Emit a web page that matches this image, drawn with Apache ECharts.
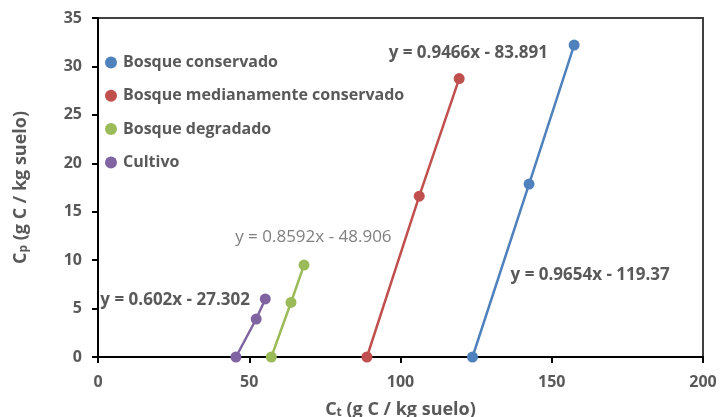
<!DOCTYPE html>
<html><head><meta charset="utf-8">
<script src="https://cdn.jsdelivr.net/npm/echarts@6/dist/echarts.min.js"></script>
<style>html,body{margin:0;padding:0;background:#fff}#c{width:720px;height:417px}</style>
</head><body><div id="c"></div>
<script>
const seriesNames = ['Bosque conservado','Bosque medianamente conservado','Bosque degradado','Cultivo'];
const colors = ['#4F81BD','#C0504D','#9BBB59','#8064A2'];
const ctConservado = [123.8, 142.5, 157.4];
const cpConservado = [0, 17.85, 32.2];
const ctMediano = [88.9, 106.2, 119.4];
const cpMediano = [0, 16.6, 28.75];
const ctDegradado = [57.3, 63.8, 68.1];
const cpDegradado = [0, 5.63, 9.49];
const ctCultivo = [45.6, 52.3, 55.3];
const cpCultivo = [0, 3.92, 5.99];
const equations = ['y = 0.9654x - 119.37','y = 0.9466x - 83.891','y = 0.8592x - 48.906','y = 0.602x - 27.302'];
const eqAnchorX = [162.7, 122.4, 71.2, 25.5];
const eqAnchorY = [8.4, 31.4, 12.4, 5.9];
const eqBold = [true, true, false, true];
const xTicks = [0, 50, 100, 150, 200];
const yTicks = [0, 5, 10, 15, 20, 25, 30, 35];

const FONT = 'Open Sans';
const TXT = '#595959';
const xs = [ctConservado, ctMediano, ctDegradado, ctCultivo];
const ys = [cpConservado, cpMediano, cpDegradado, cpCultivo];

const series = seriesNames.map((n, i) => ({
  name: n, type: 'line', data: xs[i].map((x, j) => [x, ys[i][j]]),
  symbol: 'circle', symbolSize: 11,
  lineStyle: {color: colors[i], width: 2.5},
  itemStyle: {color: colors[i]},
  z: 3,
  markPoint: {
    symbol: 'circle', symbolSize: 0, silent: true,
    data: [{coord: [eqAnchorX[i], eqAnchorY[i]]}],
    label: {show: true, position: 'inside', formatter: equations[i],
      fontFamily: FONT, fontSize: 17, fontWeight: eqBold[i] ? 'bold' : 'normal',
      color: eqBold[i] ? '#595959' : '#7f7f7f'}
  }
}));

const nameRich = {
  a: {fontFamily: FONT, fontSize: 18, fontWeight: 'bold', color: TXT},
  s: {fontFamily: FONT, fontSize: 12, fontWeight: 'bold', color: TXT, verticalAlign: 'bottom', padding: [7,0,0,0]}
};

const chart = echarts.init(document.getElementById('c'), null, {renderer: 'canvas'});
chart.setOption({
  animation: false,
  grid: {left: 98, right: 17, top: 18, bottom: 60, show: true, borderColor: '#404040', borderWidth: 2,
    backgroundColor: 'transparent', containLabel: false, outerBoundsMode: 'none'},
  legend: {
    data: seriesNames, orient: 'vertical', left: 100, top: 47,
    icon: 'circle', itemWidth: 12, itemHeight: 12, itemGap: 12.3,
    textStyle: {fontFamily: FONT, fontSize: 16, fontWeight: 'bold', color: TXT, lineHeight: 21, padding: [0,0,0,1]}
  },
  xAxis: {
    type: 'value', min: xTicks[0], max: xTicks[xTicks.length-1], interval: 50,
    splitLine: {show: false},
    axisLine: {show: true, onZero: false, lineStyle: {color: '#000', width: 2}},
    axisTick: {show: true, length: 6, lineStyle: {color: '#000', width: 2}},
    axisLabel: {fontFamily: FONT, fontSize: 16, fontWeight: 'bold', color: TXT, margin: 17},
    name: '{a|C}{s|t}{a| (g C / kg suelo)}', nameLocation: 'middle', nameGap: 43,
    nameTextStyle: {rich: nameRich}
  },
  yAxis: {
    type: 'value', min: yTicks[0], max: yTicks[yTicks.length-1], interval: 5,
    splitLine: {show: false},
    axisLine: {show: true, onZero: false, lineStyle: {color: '#000', width: 2}},
    axisTick: {show: true, length: 6, lineStyle: {color: '#000', width: 2}},
    axisLabel: {fontFamily: FONT, fontSize: 16, fontWeight: 'bold', color: TXT, margin: 16},
    name: '{a|C}{s|p}{a| (g C / kg suelo)}', nameLocation: 'middle', nameRotate: 90, nameGap: 68,
    nameTextStyle: {rich: nameRich}
  },
  series: series
});
</script></body></html>
